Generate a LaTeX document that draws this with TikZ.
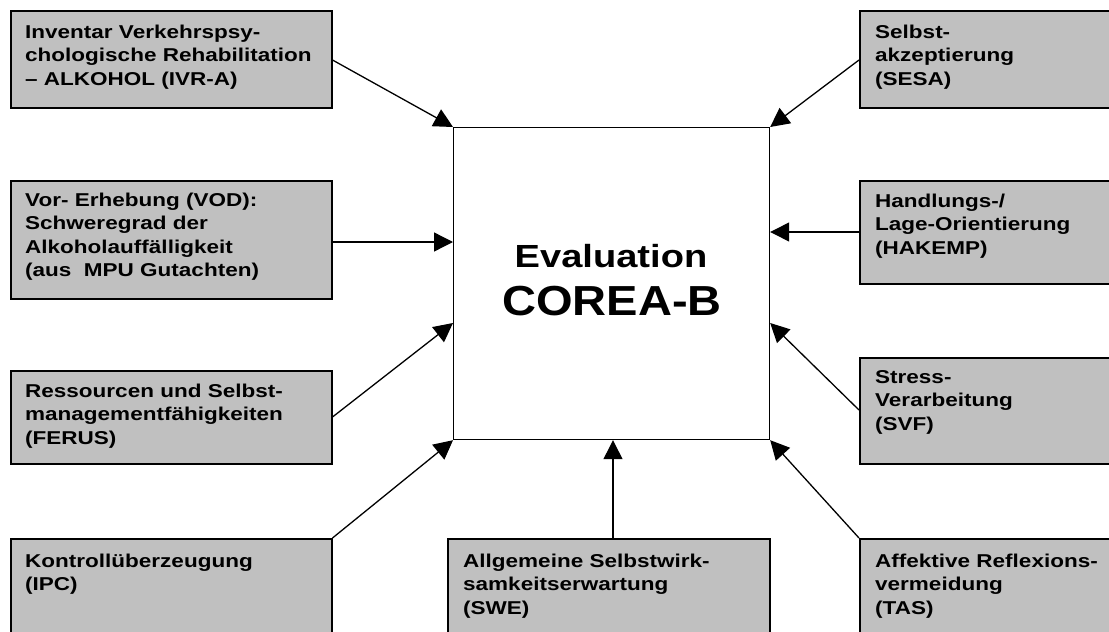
\documentclass[tikz,border=0pt]{standalone}
\usepackage{fontspec}
\setmainfont{Liberation Sans}
\usetikzlibrary{arrows.meta,calc}
\definecolor{boxgray}{HTML}{C0C0C0}
\newcommand{\boxtxt}[1]{\scalebox{1.21}[1]{\begin{tabular}[t]{@{}l@{}}#1\end{tabular}}}
\begin{document}
\begin{tikzpicture}[x=1pt,y=-1pt,
  gbox/.style={draw=black,line width=1.5pt,fill=boxgray,inner sep=0pt,anchor=north west},
  gtext/.style={anchor=base west,inner sep=0pt,font=\fontsize{18.6}{23.5}\selectfont\bfseries},
  arr/.style={line width=1.3pt,-{Triangle[length=19pt,width=19pt]}},
  cbox/.style={draw=black,line width=1.2pt,fill=white,inner sep=0pt,anchor=north west}]
\useasboundingbox (0,0) rectangle (1109,632);
\clip (0,0) rectangle (1109,632);
% left column
\node[gbox,minimum width=321pt,minimum height=97pt] (b1) at (10,10) {};
\node[gtext] (t1) at ($(b1.north west)+(15,28)$) {\boxtxt{Inventar Verkehrspsy-\\chologische Rehabilitation\\– ALKOHOL (IVR-A)}};
\node[gbox,minimum width=321pt,minimum height=118pt] (b2) at (10,180) {};
\node[gtext] (t2) at ($(b2.north west)+(15,26)$) {\boxtxt{Vor- Erhebung (VOD):\\Schweregrad der\\Alkoholauffälligkeit\\(aus\ \ MPU Gutachten)}};
\node[gbox,minimum width=321pt,minimum height=93pt] (b3) at (10,370) {};
\node[gtext] (t3) at ($(b3.north west)+(15,27)$) {\boxtxt{Ressourcen und Selbst-\\managementfähigkeiten\\(FERUS)}};
\node[gbox,minimum width=321pt,minimum height=110pt] (b4) at (10,538) {};
\node[gtext] (t4) at ($(b4.north west)+(15,29)$) {\boxtxt{Kontrollüberzeugung\\(IPC)}};
% right column
\node[gbox,minimum width=270pt,minimum height=97pt] (r1) at (859,10) {};
\node[gtext] (u1) at ($(r1.north west)+(16,28)$) {\boxtxt{Selbst-\\akzeptierung\\(SESA)}};
\node[gbox,minimum width=270pt,minimum height=103pt] (r2) at (859,180) {};
\node[gtext] (u2) at ($(r2.north west)+(16,27)$) {\boxtxt{Handlungs-/\\Lage-Orientierung\\(HAKEMP)}};
\node[gbox,minimum width=270pt,minimum height=106pt] (r3) at (859,357) {};
\node[gtext] (u3) at ($(r3.north west)+(16,26)$) {\boxtxt{Stress-\\Verarbeitung\\(SVF)}};
\node[gbox,minimum width=270pt,minimum height=110pt] (r4) at (859,538) {};
\node[gtext] (u4) at ($(r4.north west)+(16,29)$) {\boxtxt{Affektive Reflexions-\\vermeidung\\(TAS)}};
% bottom middle
\node[gbox,minimum width=322pt,minimum height=110pt] (m) at (447,538) {};
\node[gtext] (tm) at ($(m.north west)+(16,29)$) {\boxtxt{Allgemeine Selbstwirk-\\samkeitserwartung\\(SWE)}};
% center
\node[cbox,minimum width=316pt,minimum height=312pt] (c) at (453,127) {};
\node[anchor=base,inner sep=0pt,font=\fontsize{32}{36}\selectfont\bfseries] (ce) at (611,267) {\scalebox{1.19}[1]{Evaluation}};
\node[anchor=base,inner sep=0pt,font=\fontsize{42}{46}\selectfont\bfseries] (cc) at (612,315) {\scalebox{1.12}[1]{COREA-B}};
% arrows
\draw[arr] ($(b1.north east)+(0,50)$) -- (c.north west);
\draw[arr] ($(b2.north east)+(0,62)$) -- ($(c.north west)+(0,115)$);
\draw[arr] ($(b3.north east)+(0,47)$) -- ($(c.north west)+(0,196)$);
\draw[arr] (b4.north east) -- (c.south west);
\draw[arr] ($(m.north west)+(166,0)$) -- ($(c.south west)+(160,0)$);
\draw[arr] (r4.north west) -- (c.south east);
\draw[arr] ($(r3.north west)+(0,53)$) -- ($(c.north east)+(0,196)$);
\draw[arr] ($(r2.north west)+(0,52)$) -- ($(c.north east)+(0,105)$);
\draw[arr] ($(r1.north west)+(0,50)$) -- (c.north east);
\end{tikzpicture}
\end{document}
